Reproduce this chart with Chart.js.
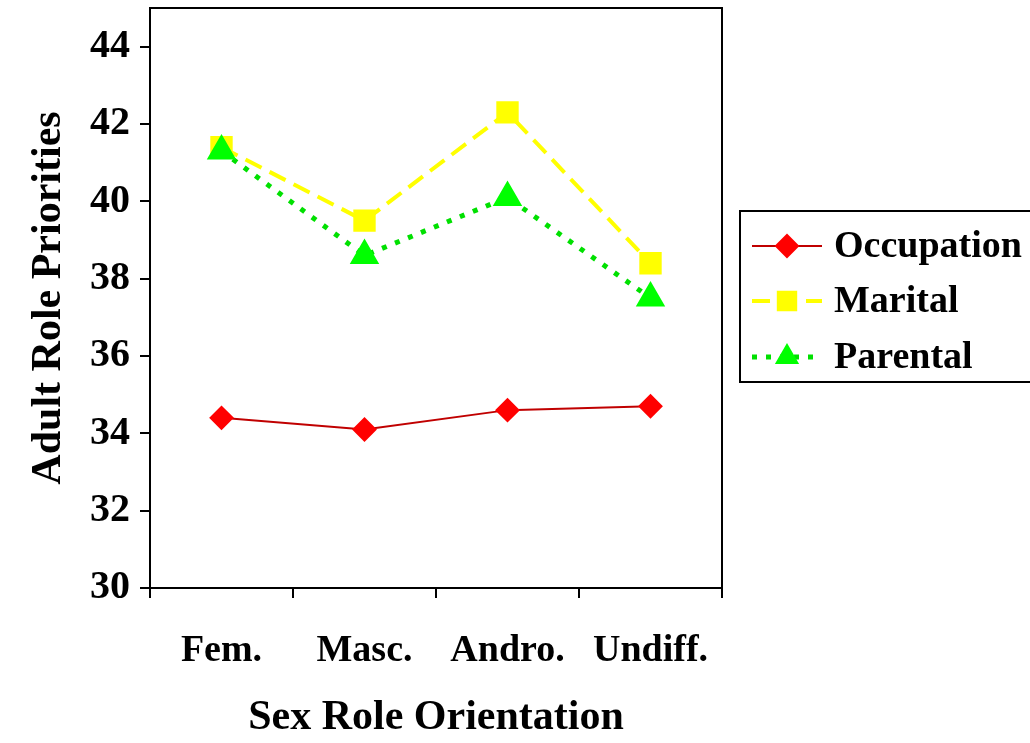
<!DOCTYPE html>
<html>
<head>
<meta charset="utf-8">
<script src="https://cdn.jsdelivr.net/npm/chart.js@4/dist/chart.umd.min.js"></script>
<style>
  html, body { margin: 0; padding: 0; background: #fff; }
  #wrap { width: 1030px; height: 743px; }
</style>
</head>
<body>
<div id="wrap"><canvas id="chart" width="1030" height="743"></canvas></div>
<script>
// Data
const categories = ["Fem.", "Masc.", "Andro.", "Undiff."];
const occupation = [34.4, 34.1, 34.6, 34.7];
const marital = [41.4, 39.5, 42.3, 38.4];
const parental = [41.3, 38.6, 40.1, 37.5];
const seriesNames = ["Occupation", "Marital", "Parental"];
const yMin = 30, yMax = 45, yStep = 2, yLastTick = 44;

const FONT = "'Liberation Serif', 'DejaVu Serif', serif";

// Box round the plot area
const frame = {
  id: "frame",
  afterDatasetsDraw(chart) {
    const { ctx, chartArea: a } = chart;
    ctx.save();
    ctx.strokeStyle = "#000";
    ctx.lineWidth = 2;
    ctx.strokeRect(a.left, a.top, a.right - a.left, a.bottom - a.top);
    ctx.restore();
  }
};

// Legend drawn as a boxed key with line samples
const legendBox = {
  id: "legendBox",
  afterDraw(chart) {
    const ctx = chart.ctx;
    const bx = 740, by = 211, bw = 310, bh = 171;
    const rows = [246, 301, 357];
    ctx.save();
    ctx.fillStyle = "#fff";
    ctx.fillRect(bx, by, bw, bh);
    ctx.strokeStyle = "#000";
    ctx.lineWidth = 2;
    ctx.strokeRect(bx, by, bw, bh);
    seriesNames.forEach((name, i) => {
      const ds = chart.data.datasets.find(d => d.label === name);
      const cy = rows[i];
      ctx.save();
      ctx.strokeStyle = ds.borderColor;
      ctx.lineWidth = ds.borderWidth;
      ctx.setLineDash(ds.borderDash || []);
      ctx.beginPath();
      ctx.moveTo(752, cy);
      ctx.lineTo(822, cy);
      ctx.stroke();
      ctx.restore();
      ctx.fillStyle = ds.pointBackgroundColor;
      ctx.strokeStyle = ds.pointBackgroundColor;
      Chart.helpers.drawPoint(ctx, {
        pointStyle: ds.pointStyle, radius: ds.pointRadius, borderWidth: 1, rotation: 0
      }, 787, cy);
      ctx.fillStyle = "#000";
      ctx.font = "bold 38px " + FONT;
      ctx.textBaseline = "middle";
      ctx.textAlign = "left";
      ctx.fillText(name, 834, cy + 1);
    });
    ctx.restore();
  }
};

new Chart(document.getElementById("chart"), {
  type: "line",
  data: {
    labels: categories,
    datasets: [
      {
        label: "Occupation",
        data: occupation,
        borderColor: "#c00000",
        borderWidth: 2,
        pointStyle: "rectRot",
        pointRadius: 11,
        pointBackgroundColor: "#ff0000",
        pointBorderColor: "#ff0000",
        order: 2
      },
      {
        label: "Marital",
        data: marital,
        borderColor: "#ffff00",
        borderWidth: 4,
        borderDash: [18, 9],
        pointStyle: "rect",
        pointRadius: 13,
        pointBackgroundColor: "#ffff00",
        pointBorderColor: "#ffff00",
        order: 1
      },
      {
        label: "Parental",
        data: parental,
        borderColor: "#00e000",
        borderWidth: 5,
        borderDash: [5, 9],
        pointStyle: "triangle",
        pointRadius: 12,
        pointBackgroundColor: "#00ff00",
        pointBorderColor: "#00ff00",
        order: 0
      }
    ]
  },
  options: {
    responsive: false,
    animation: false,
    layout: { autoPadding: false, padding: { top: 8, right: 308, left: 0, bottom: 0 } },
    plugins: {
      legend: { display: false },
      tooltip: { enabled: false }
    },
    scales: {
      x: {
        offset: true,
        grid: {
          display: true, offset: true, drawOnChartArea: false,
          color: "#000", lineWidth: 2, tickLength: 10
        },
        border: { display: true, color: "#000", width: 2 },
        ticks: { color: "#000", padding: 30, font: { family: FONT, size: 38, weight: "bold" } },
        title: {
          display: true, text: "Sex Role Orientation", color: "#000",
          padding: { top: 0, bottom: 0 },
          font: { family: FONT, size: 42, weight: "bold" }
        },
        afterFit(scale) { scale.height = 155; }
      },
      y: {
        min: yMin,
        max: yMax,
        bounds: "data",
        grid: {
          display: true, drawOnChartArea: false,
          color: "#000", lineWidth: 2, tickLength: 10
        },
        border: { display: true, color: "#000", width: 2 },
        ticks: {
          stepSize: yStep, color: "#000", padding: 10,
          font: { family: FONT, size: 40, weight: "bold" }
        },
        title: {
          display: true, text: "Adult Role Priorities", color: "#000",
          padding: { top: 24, bottom: 0 },
          font: { family: FONT, size: 42, weight: "bold" }
        },
        afterBuildTicks(scale) {
          scale.ticks = scale.ticks.filter(t => t.value <= yLastTick);
        },
        afterFit(scale) {
          scale.width = 150;
          scale.paddingTop = 0;
          scale.paddingBottom = 0;
        }
      }
    }
  },
  plugins: [frame, legendBox]
});
</script>
</body>
</html>
